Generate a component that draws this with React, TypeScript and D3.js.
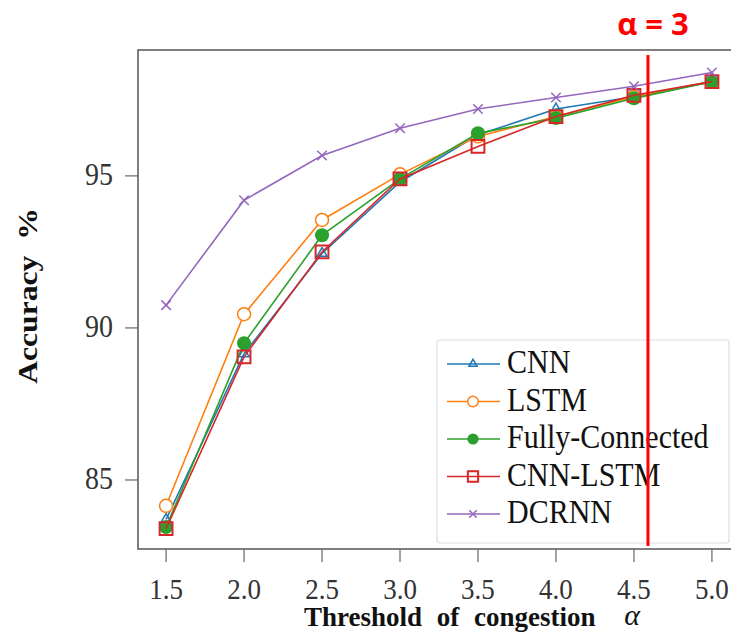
import React from 'react';
import * as d3 from 'd3';

// thresholds on the x axis
const thresholds = [1.5, 2.0, 2.5, 3.0, 3.5, 4.0, 4.5, 5.0];
const xTickLabels = ['1.5', '2.0', '2.5', '3.0', '3.5', '4.0', '4.5', '5.0'];
const yTicks = [85, 90, 95];

// accuracy % per model
const cnn = [83.7, 89.15, 92.45, 94.8, 96.35, 97.2, 97.6, 98.1];
const lstm = [84.15, 90.45, 93.55, 95.05, 96.3, 96.95, 97.6, 98.1];
const fullyConnected = [83.45, 89.5, 93.05, 94.9, 96.4, 96.9, 97.55, 98.1];
const cnnLstm = [83.4, 89.05, 92.5, 94.9, 95.97, 96.95, 97.65, 98.1];
const dcrnn = [90.75, 94.2, 95.67, 96.57, 97.2, 97.58, 97.95, 98.4];

const alphaMarker = 4.59; // where the red annotation line sits

const series = [
  { name: 'CNN', values: cnn, color: '#1f77b4', marker: 'triangle' },
  { name: 'LSTM', values: lstm, color: '#ff7f0e', marker: 'circle' },
  { name: 'Fully-Connected', values: fullyConnected, color: '#2ca02c', marker: 'dot' },
  { name: 'CNN-LSTM', values: cnnLstm, color: '#d62728', marker: 'square' },
  { name: 'DCRNN', values: dcrnn, color: '#9467bd', marker: 'x' },
];

const width = 731;
const height = 634;
const serif = '"Liberation Serif", "Times New Roman", serif';
const stretch = 1.13;

const x = d3.scaleLinear().domain([1.32, 5.18]).range([138, 740]);
const y = d3.scaleLinear().domain([82.73, 99.14]).range([549, 50]);

const Marker = ({ kind, color, cx, cy, scale = 1 }) => {
  if (kind === 'circle') {
    return <circle cx={cx} cy={cy} r={6.5 * scale} fill="white" stroke={color} strokeWidth={1.5} />;
  }
  if (kind === 'dot') {
    return <circle cx={cx} cy={cy} r={7 * scale} fill={color} />;
  }
  const sym =
    kind === 'triangle' ? d3.symbolTriangle : kind === 'square' ? d3.symbolSquare : d3.symbolX;
  const size =
    kind === 'triangle' ? 45 * scale * scale : kind === 'square' ? 165 * scale * scale : 60 * scale * scale;
  return (
    <path
      d={d3.symbol().type(sym).size(size)()}
      transform={`translate(${cx},${cy})`}
      fill="none"
      stroke={color}
      strokeWidth={kind === 'square' ? 2 : 1.5}
    />
  );
};

const StretchText = ({ x0, y0, sy = stretch, children, ...rest }) => (
  <text transform={`translate(${x0},${y0}) scale(1,${sy})`} {...rest}>
    {children}
  </text>
);

export default function App() {
  const line = d3
    .line<number>()
    .x((_, i) => x(thresholds[i]))
    .y((d) => y(d));

  const legendX = 437;
  const legendY = 340;
  const rowH = 37.5;

  return (
    <div style={{ position: 'fixed', left: 0, top: 0 }}>
      <svg width={width} height={height} style={{ display: 'block', background: 'white' }}>
        {/* frame */}
        <rect x={138} y={50} width={620} height={499} fill="none" stroke="#555" strokeWidth={1.5} />

        {/* y ticks */}
        {yTicks.map((t) => (
          <g key={t}>
            <line x1={125} x2={138} y1={y(t)} y2={y(t)} stroke="#666" strokeWidth={1.2} />
            <StretchText x0={113} y0={y(t) + 9} textAnchor="end" fontFamily={serif} fontSize={28} fill="#333">
              {t}
            </StretchText>
          </g>
        ))}

        {/* x ticks */}
        {thresholds.map((t, i) => (
          <g key={t}>
            <line x1={x(t)} x2={x(t)} y1={549} y2={562} stroke="#666" strokeWidth={1.2} />
            <StretchText x0={x(t)} y0={599} textAnchor="middle" fontFamily={serif} fontSize={27} fill="#333">
              {xTickLabels[i]}
            </StretchText>
          </g>
        ))}

        {/* axis titles */}
        <text
          x={304}
          y={626}
          fontFamily={serif}
          fontSize={27}
          fontWeight="bold"
          wordSpacing={8}
          fill="#111"
        >
          Threshold of congestion
        </text>
        <text x={632} y={625} textAnchor="middle" fontFamily={serif} fontSize={30} fontStyle="italic" fill="#111">
          α
        </text>
        <text
          transform={`translate(37,296) rotate(-90) scale(${stretch},1)`}
          textAnchor="middle"
          fontFamily={serif}
          fontSize={28}
          fontWeight="bold"
          fill="#111"
        >
          Accuracy{'\u00a0\u00a0'}%
        </text>

        {/* series */}
        {series.map((s) => (
          <g key={s.name}>
            <path d={line(s.values) || ''} fill="none" stroke={s.color} strokeWidth={1.6} />
            {s.values.map((v, i) => (
              <Marker key={i} kind={s.marker} color={s.color} cx={x(thresholds[i])} cy={y(v)} />
            ))}
          </g>
        ))}

        {/* legend */}
        <rect x={legendX} y={legendY} width={292} height={203} rx={3} fill="white" stroke="#ddd" strokeWidth={1.2} />
        {series.map((s, i) => {
          const cy = legendY + 24 + i * rowH;
          return (
            <g key={s.name}>
              <line x1={447} x2={500} y1={cy} y2={cy} stroke={s.color} strokeWidth={1.5} />
              <Marker kind={s.marker} color={s.color} cx={473} cy={cy} scale={0.8} />
              <StretchText x0={507} y0={cy + 9} fontFamily={serif} fontSize={30} fill="#111">
                {s.name}
              </StretchText>
            </g>
          );
        })}

        {/* alpha annotation */}
        <line x1={x(alphaMarker)} x2={x(alphaMarker)} y1={55} y2={546} stroke="#ff0000" strokeWidth={3} />
        <text
          x={653}
          y={35}
          textAnchor="middle"
          fontFamily='"Open Sans", "Liberation Sans", sans-serif'
          fontSize={31}
          fontWeight="bold"
          fill="#ff0000"
        >
          α = 3
        </text>
      </svg>
    </div>
  );
}
